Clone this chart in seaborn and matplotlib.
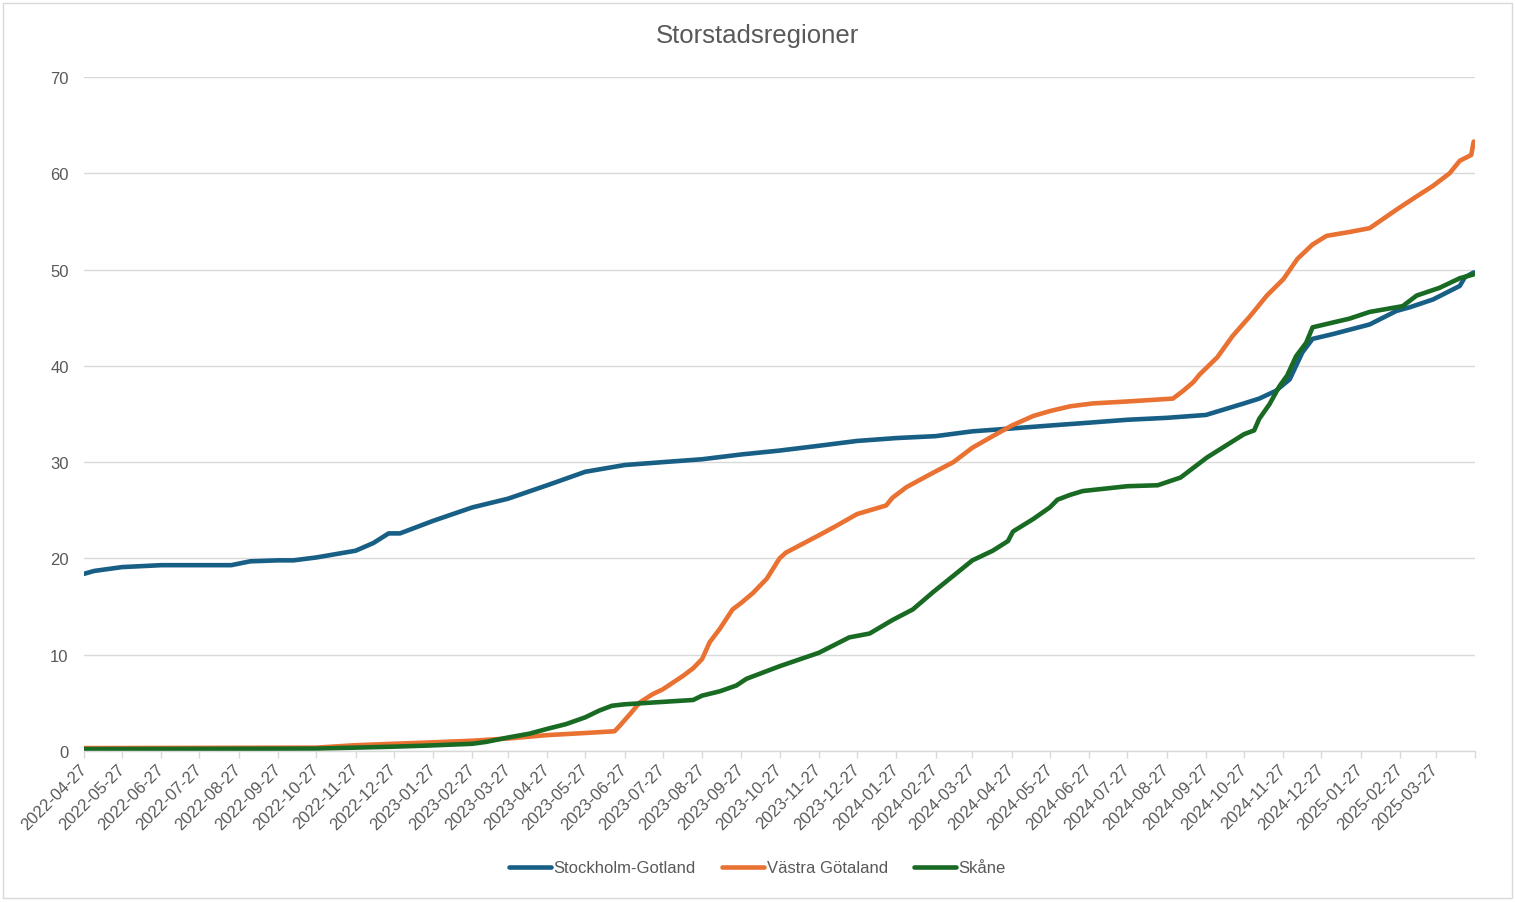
import matplotlib
matplotlib.use("Agg")
import matplotlib.pyplot as plt
from matplotlib.patches import Rectangle
from matplotlib.lines import Line2D
import seaborn as sns
import pandas as pd

# ---------------- data ----------------
series_names = ["Stockholm-Gotland", "Västra Götaland", "Skåne"]
series_colors = ["#185F86", "#E97132", "#196B24"]

sthlm_dates = ["2022-04-27", "2022-05-05", "2022-05-27", "2022-06-27", "2022-08-21",
               "2022-09-05", "2022-09-27", "2022-10-09", "2022-10-27", "2022-11-27",
               "2022-12-11", "2022-12-23", "2023-01-01", "2023-01-11", "2023-01-27",
               "2023-02-27", "2023-03-27", "2023-04-27", "2023-05-27", "2023-06-27",
               "2023-07-27", "2023-08-27", "2023-09-27", "2023-10-27", "2023-11-27",
               "2023-12-27", "2024-01-27", "2024-02-27", "2024-03-27", "2024-04-27",
               "2024-05-27", "2024-06-27", "2024-07-27", "2024-08-27", "2024-09-27",
               "2024-10-27", "2024-11-08", "2024-11-21", "2024-12-02", "2024-12-12",
               "2024-12-20", "2025-01-05", "2025-02-03", "2025-02-24", "2025-03-07",
               "2025-03-25", "2025-04-15", "2025-04-19", "2025-04-26"]
sthlm_values = [18.4, 18.7, 19.1, 19.3, 19.3,
                19.7, 19.8, 19.8, 20.1, 20.8,
                21.6, 22.6, 22.6, 23.1, 23.9,
                25.3, 26.2, 27.6, 29.0, 29.7,
                30.0, 30.3, 30.8, 31.2, 31.7,
                32.2, 32.5, 32.7, 33.2, 33.5,
                33.8, 34.1, 34.4, 34.6, 34.9,
                36.1, 36.6, 37.4, 38.6, 41.4,
                42.8, 43.3, 44.3, 45.7, 46.1,
                46.9, 48.3, 49.2, 49.7]

vg_dates = ["2022-04-27", "2022-10-27", "2022-11-27", "2022-12-27", "2023-01-27",
            "2023-02-27", "2023-03-27", "2023-04-27", "2023-05-27", "2023-06-19",
            "2023-06-23", "2023-07-01", "2023-07-09", "2023-07-19", "2023-07-27",
            "2023-08-12", "2023-08-20", "2023-08-27", "2023-09-02", "2023-09-10",
            "2023-09-20", "2023-09-27", "2023-10-06", "2023-10-17", "2023-10-27",
            "2023-11-01", "2023-11-27", "2023-12-11", "2023-12-27", "2024-01-19",
            "2024-01-24", "2024-02-04", "2024-02-25", "2024-03-12", "2024-03-27",
            "2024-04-12", "2024-04-27", "2024-05-14", "2024-05-27", "2024-06-12",
            "2024-06-30", "2024-07-27", "2024-09-01", "2024-09-09", "2024-09-17",
            "2024-09-22", "2024-10-06", "2024-10-18", "2024-11-01", "2024-11-14",
            "2024-11-27", "2024-12-08", "2024-12-20", "2024-12-31", "2025-01-18",
            "2025-02-03", "2025-02-14", "2025-02-25", "2025-03-12", "2025-03-25",
            "2025-04-07", "2025-04-15", "2025-04-24", "2025-04-26"]
vg_values = [0.3, 0.35, 0.6, 0.75, 0.9,
             1.07, 1.3, 1.65, 1.87, 2.05,
             2.6, 3.8, 5.05, 5.9, 6.4,
             7.8, 8.6, 9.55, 11.3, 12.7,
             14.7, 15.4, 16.4, 17.9, 20.0,
             20.6, 22.4, 23.4, 24.6, 25.5,
             26.3, 27.4, 28.9, 30.0, 31.5,
             32.7, 33.8, 34.8, 35.3, 35.8,
             36.1, 36.3, 36.6, 37.4, 38.3,
             39.1, 40.9, 43.1, 45.2, 47.3,
             49.0, 51.1, 52.6, 53.5, 53.9,
             54.3, 55.3, 56.3, 57.6, 58.7,
             60.0, 61.3, 61.9, 63.3]

skane_dates = ["2022-04-27", "2022-10-27", "2022-11-27", "2022-12-27", "2023-01-20",
               "2023-02-27", "2023-03-10", "2023-03-27", "2023-04-13", "2023-04-27",
               "2023-05-12", "2023-05-27", "2023-06-07", "2023-06-17", "2023-06-27",
               "2023-07-27", "2023-08-20", "2023-08-27", "2023-09-10", "2023-09-23",
               "2023-10-01", "2023-10-27", "2023-11-27", "2023-12-21", "2024-01-06",
               "2024-01-24", "2024-02-09", "2024-02-25", "2024-03-12", "2024-03-27",
               "2024-04-12", "2024-04-24", "2024-04-28", "2024-05-14", "2024-05-27",
               "2024-06-02", "2024-06-12", "2024-06-22", "2024-07-27", "2024-08-20",
               "2024-09-07", "2024-09-28", "2024-10-27", "2024-11-04", "2024-11-08",
               "2024-11-16", "2024-11-24", "2024-11-30", "2024-12-07", "2024-12-15",
               "2024-12-20", "2025-01-05", "2025-01-18", "2025-02-03", "2025-03-01",
               "2025-03-12", "2025-03-30", "2025-04-15", "2025-04-26"]
skane_values = [0.2, 0.25, 0.35, 0.45, 0.55,
                0.75, 0.95, 1.4, 1.8, 2.3,
                2.8, 3.5, 4.2, 4.7, 4.85,
                5.1, 5.3, 5.75, 6.2, 6.8,
                7.5, 8.8, 10.2, 11.8, 12.2,
                13.6, 14.7, 16.5, 18.2, 19.8,
                20.8, 21.8, 22.8, 24.1, 25.3,
                26.1, 26.6, 27.0, 27.5, 27.6,
                28.4, 30.5, 32.9, 33.3, 34.5,
                36.0, 37.9, 39.0, 41.0, 42.4,
                44.0, 44.5, 44.9, 45.6, 46.2,
                47.3, 48.1, 49.1, 49.5]

title_text = "Storstadsregioner"
x_start, x_end = "2022-04-27", "2025-04-27"
y_ticks = [0, 10, 20, 30, 40, 50, 60, 70]

# ---------------- build table ----------------
frames = []
for name, d, v in [(series_names[0], sthlm_dates, sthlm_values),
                   (series_names[1], vg_dates, vg_values),
                   (series_names[2], skane_dates, skane_values)]:
    frames.append(pd.DataFrame({"date": pd.to_datetime(d), "value": v, "region": name}))
df = pd.concat(frames, ignore_index=True)

# ---------------- style ----------------
sns.set_theme(style="white")
plt.rcParams["font.family"] = ["Liberation Sans", "DejaVu Sans"]
TXT = "#595959"
GRID = "#D9D9D9"

W, H = 1515, 903
fig = plt.figure(figsize=(W / 100, H / 100), dpi=100)
fig.patch.set_facecolor("white")
ax = fig.add_axes([84 / W, 1 - 752 / H, (1475 - 84) / W, (752 - 78) / H])

palette = dict(zip(series_names, series_colors))
sns.lineplot(data=df, x="date", y="value", hue="region", hue_order=series_names,
             palette=palette, estimator=None, linewidth=3.3, ax=ax, legend=False)
for ln in ax.get_lines():
    ln.set_solid_capstyle("round")
    ln.set_solid_joinstyle("round")

ax.set_xlim(pd.Timestamp(x_start), pd.Timestamp(x_end))
ax.set_ylim(y_ticks[0], y_ticks[-1])
ax.set_yticks(y_ticks)

ticks = pd.date_range(x_start, x_end, freq=pd.DateOffset(months=1))
labels = [t.strftime("%Y-%m-%d") for t in ticks[:-1]] + [""]
ax.set_xticks(ticks)
ax.set_xticklabels(labels, rotation=45, ha="right", va="center", rotation_mode="anchor")

ax.tick_params(axis="x", length=5, width=1, color=GRID, labelsize=12,
               labelcolor=TXT, pad=6, bottom=True)
ax.tick_params(axis="y", length=0, labelsize=12, labelcolor=TXT, pad=11)
ax.set_xlabel("")
ax.set_ylabel("")

ax.grid(axis="y", color=GRID, linewidth=1)
ax.grid(axis="x", visible=False)
ax.set_axisbelow(True)
for s in ["left", "right", "top"]:
    ax.spines[s].set_visible(False)
ax.spines["bottom"].set_color(GRID)
ax.spines["bottom"].set_linewidth(1)

fig.text(0.5, 1 - 36 / H, title_text, ha="center", va="center",
         fontsize=18.5, color=TXT)

handles = [Line2D([0], [0], color=c, lw=3.3, solid_capstyle="round") for c in series_colors]
fig.legend(handles, series_names, loc="center", bbox_to_anchor=(0.5, 1 - 869 / H),
           ncol=3, frameon=False, fontsize=12, labelcolor=TXT,
           handlelength=2.5, handletextpad=0.15, columnspacing=1.6)

fig.patches.append(Rectangle((3 / W, 4 / H), 1509 / W, 895 / H, transform=fig.transFigure,
                             fill=False, edgecolor=GRID, linewidth=1))

fig.savefig("out.png", dpi=100, facecolor="white")
